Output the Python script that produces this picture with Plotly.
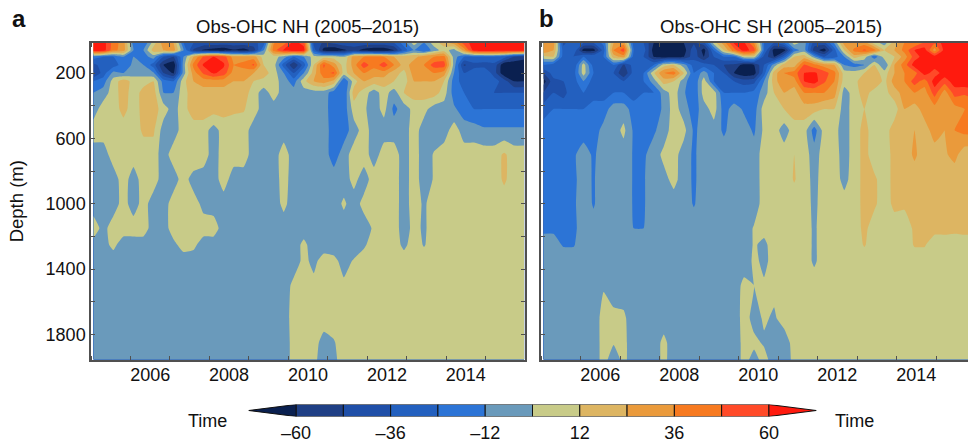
import plotly.graph_objects as go

W, H = 968, 445
FONT = "Liberation Sans"
INK = "#111111"
FRAME = "#505050"

depths = [15, 60, 100, 150, 200, 250, 320, 420, 550, 700, 850, 1000, 1150, 1250, 1350, 1500, 1700, 1850, 1955]
times = [2005.06 + i * (2015.98 - 2005.06) / 43 for i in range(44)]

nh_0015 = [66,66,42,30,-18,-24,6,30,24,-24,-36, -40,-40,-40,-40,-40,-40,-30,35,42,66,54, -40,-50,-45,-40,-40,-40,-40,-40,-36,-18,6, -12,6,18,30,54,66,70,70,70,70,70]
nh_0060 = [70,66,40,30,-12,-12,18,24,30,-12,-50, -62,-66,-70,-62,-66,-55,-12,42,62,70,66, -30,-65,-70,-62,-55,-65,-70,-70,-60,-30,-12, -24,-6,6,-6,30,66,70,70,70,70,70]
nh_0100 = [-18,-24,-24,-12,-12,-18,-6,-36,-48,-12,24, 50,60,54,30,30,30,6,6,-6,-24,-12, 6,6,6,0,30,36,40,36,24,18,20, 30,36,40,-6,-24,-24,-24,-24,-30,-48,-55]
nh_0150 = [-40,-30,-30,-18,-10,-12,-30,-60,-70,-6,40, 62,66,62,36,40,50,12,6,-30,-60,-30, 12,50,30,6,30,55,40,55,36,18,30, 36,54,54,-6,-50,-40,-42,-40,-70,-70,-70]
nh_0200 = [-50,-30,-8,-12,-6,-6,-10,-48,-62,-6,30, 50,62,55,30,30,24,18,6,-12,-36,-12, 18,45,50,6,24,36,30,30,18,8,30, 36,36,30,-12,-36,-30,-24,-42,-70,-70,-70]
nh_0250 = [-24,-18,6,18,8,8,12,-18,-24,8,24, 30,30,30,24,24,12,8,6,-6,-18,8, 24,30,20,-24,6,24,18,18,12,6,24, 24,24,12,-18,-30,-24,-24,-30,-42,-60,-60]
nh_0320 = [-12,-6,6,18,6,16,18,-12,-12,8,18, 18,18,18,18,18,6,-6,6,-6,-6,-6, -6,-6,-18,-24,18,6,-6,6,-6,12,18, 18,18,6,-18,-24,-30,-30,-36,-36,-36,-36]
nh_0420 = [-6,6,6,16,6,16,18,6,-6,8,18, 18,18,16,14,13,6,-6,-6,-6,-6,-6, -6,-6,-20,-20,6,2,-6,4,-15,-6,4, 4,-6,-6,-10,-18,-24,-24,-24,-24,-24,-24]
nh_0550 = [6,6,6,6,6,14,14,-6,-6,6,6, 6,-6,6,6,6,-6,-6,-6,-6,-6,-6, -6,-6,-18,-18,-6,6,-6,-6,-6,-6,6, -6,-6,-6,6,-6,-6,-10,-10,-10,-10,-10]
nh_0700 = [-6,-6,6,6,6,6,6,-6,6,6,12, 6,-6,6,6,6,-6,-6,-6,6,-6,-6, -6,-6,-18,-6,6,6,-6,6,6,-6,6, -6,1,6,6,6,6,6,6,14,6,6]
nh_0850 = [-6,-6,-6,6,-6,6,6,-6,-6,6,-6, -6,-6,6,-6,-6,-6,-6,-6,5,-6,-6, -6,-6,-6,-6,4,-6,6,6,6,-6,6, -6,1,6,6,6,6,6,6,14,6,6]
nh_1000 = [-6,-6,-6,5,-6,5,-6,-6,6,4,6, -4,-6,-6,-6,-6,-6,-6,-6,3,-6,-6, -6,-6,-6,2,-6,4,6,6,6,-6,6, -2,6,6,6,6,6,6,6,6,6,6]
nh_1150 = [6,-4,6,6,6,6,-6,-6,6,6,6, 6,6,-6,-6,-6,-6,-6,-6,-6,-6,-6, -6,-6,-6,-6,-6,-6,2,6,6,-6,4, -2,6,6,6,6,6,6,6,6,6,6]
nh_1250 = [-4,-4,3,-6,-6,-6,-6,-6,-3,5,3, -6,-6,-6,-6,-6,-6,-6,-6,-6,-6,3, -6,-6,-6,-6,-6,-2,6,6,6,-3,6, -1,6,6,6,6,6,6,6,6,6,6]
nh_1350 = [-6,-6,-6,-6,-6,-6,-6,-6,-6,-6,-6, -6,-6,-6,-6,-6,-6,-6,-6,-6,-6,3, -3,5,3,-4,1,6,6,6,6,6,6, 6,6,6,6,6,6,6,6,6,6,6]
nh_1500 = [-6,-6,-6,-6,-6,-6,-6,-6,-6,-6,-6, -6,-6,-6,-6,-6,-6,-6,-6,-6,3,6, 3,5,6,2,1,6,6,6,6,6,6, 6,6,6,6,6,6,6,6,6,6,6]
nh_1700 = [-6,-6,-6,-6,-6,-6,-6,-6,-6,-6,-6, -6,-6,-6,-6,-6,-6,-6,-6,-6,5,6, 1,5,6,6,6,6,6,6,6,6,6, 6,6,6,6,6,6,6,6,6,6,6]
nh_1850 = [-6,-6,-6,-6,-6,-6,-6,-6,-6,-6,-6, -6,-6,-6,-6,-6,-6,-6,-6,-6,4,6, 4,-4,-1,6,6,6,6,6,6,6,6, 6,6,6,6,6,6,6,6,6,6,6]
nh_1955 = [-6,-6,-6,-6,-6,-6,-6,-6,-6,-6,-6, -6,-6,-6,-6,-6,-6,-6,-6,-6,4,6, 3,-6,-3,6,6,6,6,6,6,6,6, 6,6,6,6,6,6,6,6,6,6,6]

sh_0015 = [30,30,-40,-24,-36,-36,-20,24,30,-30,-36, -60,-62,-62,-60,-50,-40,6,30,62,62,36, -24,-36,-24,6,-6,-42,-40,-10,30,24,30, 6,-6,18,36,36,50,50,66,66,66,66]
sh_0060 = [36,24,-30,-24,-66,-66,-30,36,54,-24,-30, -66,-70,-70,-66,-40,-66,-24,12,42,66,54, -24,-66,-66,-18,-6,-54,-66,-30,12,40,50, 40,12,24,40,60,66,30,66,70,70,70]
sh_0100 = [8,12,-30,-36,-24,-24,-24,18,30,-30,-36, -60,-66,-66,-60,-40,-60,-36,-24,-24,6,6, -40,-60,-30,12,18,-6,-36,-30,-12,18,6, -20,6,12,30,54,66,66,70,70,70,70]
sh_0150 = [-24,-30,-30,-36,6,-30,-24,-24,-50,-30,-30, -24,6,12,-6,-30,-30,-36,-48,-50,-66,-60, -36,-6,18,18,50,40,30,24,-12,-18,-12, 12,-12,24,42,66,70,66,70,70,70,70]
sh_0200 = [-48,-30,-30,-30,6,-24,-24,-36,-60,-30,-24, 10,36,42,12,-24,-6,-24,-36,-60,-70,-66, -30,18,36,42,60,62,54,40,6,6,12, 18,6,24,36,42,66,54,66,70,70,70]
sh_0250 = [-66,-40,-36,-30,-12,-30,-30,-30,-36,-24,-24, -6,18,12,-6,-24,6,-24,-30,-36,-42,-40, -12,18,36,30,60,66,50,36,6,6,24, 24,8,30,36,54,42,66,54,66,70,70]
sh_0320 = [-48,-36,-42,-24,-24,-30,-30,-24,-24,-30,-24, -24,-6,6,-10,-24,6,6,-24,-24,-24,-20, -6,12,24,18,36,36,36,30,-6,6,18, 6,8,18,30,36,30,54,30,54,50,54]
sh_0420 = [-30,-24,-24,-24,-24,-18,-18,-6,-6,-18,-18, -18,-10,6,-6,-18,-6,6,-18,-6,-14,-18, 6,6,12,18,18,18,12,12,-6,6,12, 6,6,6,24,18,30,30,24,30,36,40]
sh_0550 = [-18,-18,-14,-18,-18,-18,-8,-6,3,-14,-14, -14,-6,6,4,-14,-8,-6,-14,-6,-6,-14, 3,6,-6,6,6,-18,6,4,-6,6,16, 6,6,18,18,24,18,30,24,36,40,40]
sh_0700 = [-14,-14,-14,-14,-6,-14,-6,-6,-6,-13,-14, -6,3,5,-6,-14,-6,-6,-6,-6,-6,-6, 5,5,6,12,6,-6,6,6,-6,6,16, 6,6,16,18,26,18,18,22,28,16,16]
sh_0850 = [-14,-14,-14,-14,-8,-13,-6,-6,-6,-13,-13, -6,-4,4,-6,-14,-6,-6,-6,-6,-6,-6, 5,5,5,13,6,-4,6,6,-4,6,16, 14,6,16,16,18,16,16,18,16,16,16]
sh_1000 = [-14,-14,-14,-14,-6,-13,-6,-6,-6,-13,-13, -6,-6,-6,-6,-13,-6,-6,-6,-6,-6,-6, 5,5,6,6,6,-3,6,6,5,6,16, 14,6,15,14,18,16,16,16,16,16,16]
sh_1150 = [-14,-14,-14,-14,-8,-8,-6,-6,-6,-12,-12, -6,-6,-6,-6,-6,-6,-6,-6,-6,-6,1, 3,5,6,6,6,-2,6,6,6,6,15, 6,6,6,6,14,14,16,16,15,16,16]
sh_1250 = [-8,-8,-13,-13,-6,-6,-6,-6,-6,-6,-6, -6,-6,-6,-6,-6,-6,-6,-6,-6,-6,1, -2,4,6,1,6,-2,6,6,6,6,13, 6,6,6,6,13,13,6,6,6,6,6]
sh_1350 = [-6,-6,-6,-6,-6,-6,-6,-6,-6,-6,-6, -6,-6,-6,-6,-6,-6,-6,-6,-6,-6,2, -2,3,3,2,6,-2,6,6,6,6,6, 6,6,6,6,6,6,6,6,6,6,6]
sh_1500 = [-6,-6,-6,-6,-6,-6,-1,-6,-6,-6,-6, -6,-6,-6,-6,-6,-6,-6,-6,-6,3,0, 1,2,5,6,6,6,6,6,6,6,6, 6,6,6,6,6,6,6,6,6,6,6]
sh_1700 = [-6,-6,-6,-6,-6,-6,4,3,2,-6,-6, -6,-6,-6,-6,-6,-6,-6,-6,-6,4,-3, 1,-1,3,6,6,6,6,6,6,6,6, 6,6,6,6,6,6,6,6,6,6,6]
sh_1850 = [-6,-6,-6,-6,-6,-6,4,1,3,-6,-6, -6,3,-6,-6,-6,-6,-6,-6,-6,3,2, -1,-3,-4,3,6,6,6,6,6,6,6, 6,6,6,6,6,6,6,6,6,6,6]
sh_1955 = [-6,-6,-6,-6,-6,-6,4,-6,3,-6,-6, -6,3,-6,-6,-6,-6,-6,-6,-6,3,-3, 3,-4,-4,2,6,6,6,6,6,6,6, 6,6,6,6,6,6,6,6,6,6,6]

nh_rows = [nh_0015, nh_0060, nh_0100, nh_0150, nh_0200, nh_0250, nh_0320, nh_0420, nh_0550, nh_0700,
           nh_0850, nh_1000, nh_1150, nh_1250, nh_1350, nh_1500, nh_1700, nh_1850, nh_1955]
sh_rows = [sh_0015, sh_0060, sh_0100, sh_0150, sh_0200, sh_0250, sh_0320, sh_0420, sh_0550, sh_0700,
           sh_0850, sh_1000, sh_1150, sh_1250, sh_1350, sh_1500, sh_1700, sh_1850, sh_1955]

levels = [-60, -48, -36, -24, -12, 0, 12, 24, 36, 48, 60]
band_colors = ["#0A2050", "#1F3F85", "#1F4FA8", "#2360BF", "#2C74D6", "#6A9ABB",
               "#C8CB88", "#DDB562", "#EA9A3B", "#F77A20", "#FF4A28", "#FF1A0E"]
bar_labels = ["–60", "–36", "–12", "12", "36", "60"]
bar_ticks = [-60, -36, -12, 12, 36, 60]
year_labels = ["2006", "2008", "2010", "2012", "2014"]
year_label_pos = [2006.5, 2008.5, 2010.5, 2012.5, 2014.5]
year_ticks = list(range(2005, 2017))
depth_ticks = [200, 400, 600, 800, 1000, 1200, 1400, 1600, 1800]
depth_text = ["200", "", "600", "", "1000", "", "1400", "", "1800"]

scale = [[i / 11, c] for i, c in enumerate(band_colors)]
contours = dict(start=-60, end=60, size=12, coloring="fill", showlines=False)

fig = go.Figure()
for rows, xa, ya in [(nh_rows, "x", "y"), (sh_rows, "x2", "y2")]:
    fig.add_trace(go.Contour(x=times, y=depths, z=rows, xaxis=xa, yaxis=ya, autocontour=False,
                             contours=contours, colorscale=scale, zmin=-66, zmax=66, showscale=False,
                             line=dict(width=0, smoothing=0.4), hoverinfo="skip"))

for lo, hi, c in zip(levels[:-1], levels[1:], band_colors[1:-1]):
    fig.add_trace(go.Bar(x=[hi - lo], y=[0.5], base=[lo], width=[1], orientation="h", xaxis="x3", yaxis="y3",
                         marker=dict(color=c, line=dict(color="#111111", width=1)), showlegend=False, hoverinfo="skip"))
for tip, edge, c in [(-72, -60, band_colors[0]), (72, 60, band_colors[-1])]:
    fig.add_trace(go.Scatter(x=[tip, edge, edge, tip], y=[0.5, 1, 0, 0.5], xaxis="x3", yaxis="y3", mode="lines",
                             fill="toself", fillcolor=c, line=dict(color="#111111", width=1), showlegend=False, hoverinfo="skip"))

xcommon = dict(tickmode="array", tickvals=year_label_pos, ticktext=year_labels, ticks="", ticklabelstandoff=-2,
               minor=dict(tickmode="array", tickvals=year_ticks, ticks="inside", ticklen=4, tickcolor=FRAME, tickwidth=1),
               showgrid=False, zeroline=False, showline=True, linecolor=FRAME, linewidth=1.5, mirror="ticks",
               tickfont=dict(family=FONT, size=18, color=INK))
ycommon = dict(range=[1953, 16], tickmode="array", tickvals=depth_ticks, ticktext=depth_text, ticks="inside", ticklen=4,
               tickcolor=FRAME, showgrid=False, zeroline=False, showline=True, linecolor=FRAME, linewidth=1.5,
               tickfont=dict(family=FONT, size=18, color=INK))
ydom = [1 - 359.5 / H, 1 - 43 / H]


def label(text, px, py, size):
    return dict(text=text, x=px / W, y=1 - py / H, xref="paper", yref="paper", showarrow=False,
                xanchor="center", yanchor="middle", font=dict(family=FONT, size=size, color=INK))


fig.update_layout(
    width=W, height=H, margin=dict(l=0, r=0, t=0, b=0), paper_bgcolor="white", plot_bgcolor="white",
    showlegend=False, barmode="overlay",
    xaxis=dict(domain=[91 / W, 525 / W], range=[2005, 2016], anchor="y", **xcommon),
    yaxis=dict(domain=ydom, anchor="x", mirror="ticks",
               title=dict(text="Depth (m)", font=dict(family=FONT, size=18.5, color=INK), standoff=17), **ycommon),
    xaxis2=dict(domain=[541 / W, 1], range=[2005, 2015.81], anchor="y2", **xcommon),
    yaxis2=dict(domain=ydom, anchor="x2", showticklabels=False, **ycommon),
    xaxis3=dict(domain=[248 / W, 817 / W], range=[-72.2, 72.2], anchor="y3", tickmode="array", tickvals=bar_ticks,
                ticktext=bar_labels, ticks="", ticklabelstandoff=3, showgrid=False, zeroline=False, showline=False,
                tickfont=dict(family=FONT, size=18, color=INK)),
    yaxis3=dict(domain=[1 - 416.5 / H, 1 - 404.5 / H], range=[0, 1], anchor="x3", visible=False),
    annotations=[
        label("Obs-OHC NH (2005–2015)", 307, 27, 18.5),
        label("Obs-OHC SH (2005–2015)", 771, 27, 18.5),
        label("<b>a</b>", 19, 18, 24),
        label("<b>b</b>", 546, 18, 24),
        label("Time", 207, 421, 18),
        label("Time", 854, 421, 18),
    ],
)

fig.write_html("out.html", config=dict(displayModeBar=False), post_script="document.body.style.margin='0';")
